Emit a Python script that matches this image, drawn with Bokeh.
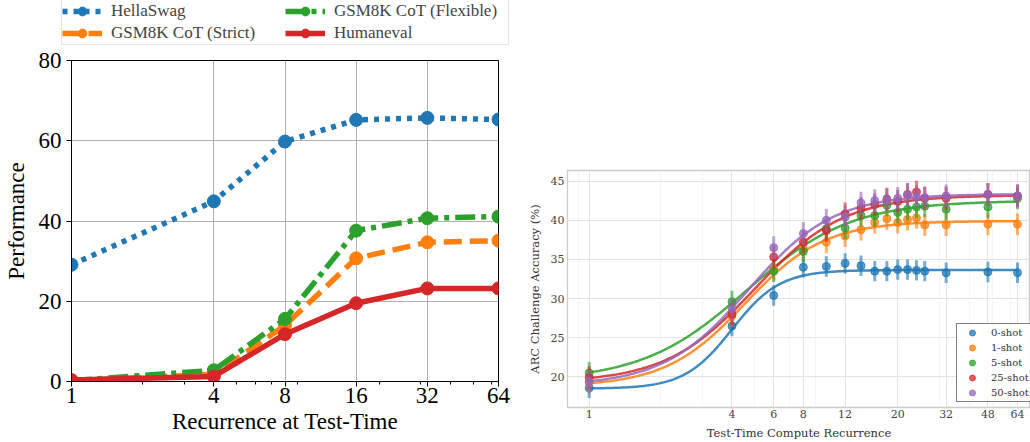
import numpy as np
from bokeh.plotting import figure
from bokeh.layouts import row, column
from bokeh.models import Range1d, FixedTicker, Legend, LegendItem
from bokeh.embed import file_html
from bokeh.resources import INLINE

# ---------------- Left panel data ----------------
recurrence = [1, 4, 8, 16, 32, 64]
recurrence_labels = ["1", "4", "8", "16", "32", "64"]
hellaswag = [29.1, 44.9, 59.8, 65.2, 65.7, 65.3]
gsm8k_strict = [0.2, 1.8, 14.0, 30.7, 34.7, 35.1]
gsm8k_flexible = [0.2, 2.8, 15.6, 37.6, 40.7, 41.1]
humaneval = [0.35, 1.25, 11.8, 19.5, 23.2, 23.2]
perf_ticks = [0, 20, 40, 60, 80]

# ---------------- Right panel data ----------------
arc_x = [1, 4, 6, 8, 10, 12, 14, 16, 18, 20, 22, 24, 26, 32, 48, 64]
arc_ticks = [1, 4, 6, 8, 12, 20, 32, 48, 64]
arc_tick_labels = ["1", "4", "6", "8", "12", "20", "32", "48", "64"]
shots = ["0-shot", "1-shot", "5-shot", "25-shot", "50-shot"]
acc_0shot = [18.6, 26.5, 30.4, 34.0, 34.1, 34.5, 34.2, 33.5, 33.5, 33.7, 33.7, 33.6, 33.5, 33.3, 33.4, 33.3]
acc_1shot = [19.3, 27.8, 33.7, 36.4, 37.2, 38.0, 38.8, 39.7, 40.2, 39.7, 40.1, 40.3, 39.4, 39.4, 39.5, 39.5]
acc_5shot = [20.5, 29.6, 33.5, 36.0, 38.9, 39.0, 40.6, 40.6, 41.9, 41.0, 41.4, 41.7, 41.8, 41.4, 41.7, 42.8]
acc_25shot = [19.9, 28.0, 35.3, 37.2, 38.7, 40.8, 41.5, 42.0, 42.7, 42.4, 43.3, 43.6, 42.8, 42.8, 43.3, 43.1]
acc_50shot = [19.4, 28.7, 36.5, 38.3, 40.0, 40.4, 42.2, 42.5, 42.6, 42.8, 43.2, 43.0, 42.9, 43.1, 43.3, 43.1]
acc_err = [1.3, 1.4, 1.4, 1.45, 1.45]
# sigmoid fit parameters (in log2 of recurrence)
fit_lower = [18.5, 18.8, 19.5, 19.3, 18.9]
fit_upper = [33.65, 39.9, 42.5, 43.2, 43.35]
fit_rate = [3.0, 1.8, 1.37, 1.6, 1.68]
fit_mid = [2.0, 2.18, 2.2, 2.32, 2.23]

TAB = ["#1f77b4", "#ff7f0e", "#2ca02c", "#d62728", "#9467bd"]

# ================= Left figure =================
LF = "Liberation Serif"
p1 = figure(width=515, height=396, x_axis_type="log",
            x_range=Range1d(1, 64), y_range=Range1d(0, 80),
            output_backend="svg", toolbar_location=None,
            min_border_left=69, min_border_right=17, min_border_bottom=61, min_border_top=14)
p1.frame_align = False
p1.outline_line_color = "black"
p1.outline_line_width = 1

# separate strip that holds the legend above the left chart
# (its ranges sit below zero, so its swatch renderers stay out of view)
pl = figure(width=515, height=46, x_range=Range1d(-2, -1), y_range=Range1d(-2, -1),
            output_backend="svg", toolbar_location=None,
            min_border_left=0, min_border_right=0, min_border_top=0, min_border_bottom=0)
pl.frame_align = False
pl.axis.visible = False
pl.grid.visible = False
pl.outline_line_color = None

series = [
    ("HellaSwag", hellaswag, TAB[0], "5 6"),
    ("GSM8K CoT (Strict)", gsm8k_strict, TAB[1], "18 8"),
    ("GSM8K CoT (Flexible)", gsm8k_flexible, TAB[2], "20 6 5 6"),
    ("Humaneval", humaneval, TAB[3], "solid"),
]
items = []
for name, vals, col, dash in series:
    p1.line(recurrence, vals, line_width=5.5, line_color=col, line_dash=dash)
    p1.scatter(recurrence, vals, size=13, fill_color=col, line_color=col)
    lr = pl.line(recurrence[:2], vals[:2], line_width=5.5, line_color=col, line_dash=dash)
    sr = pl.scatter(recurrence[:1], vals[:1], size=13, fill_color=col, line_color=col)
    items.append(LegendItem(label=name, renderers=[lr, sr]))

p1.xaxis.ticker = FixedTicker(ticks=recurrence, minor_ticks=[2, 3, 5, 6, 7, 9, 20, 30, 40, 50, 60])
p1.xaxis.major_label_overrides = {t: l for t, l in zip(recurrence, recurrence_labels)}
p1.yaxis.ticker = FixedTicker(ticks=perf_ticks)
p1.xgrid.ticker = FixedTicker(ticks=recurrence)
for ax in (p1.xaxis[0], p1.yaxis[0]):
    ax.major_label_text_font = LF
    ax.major_label_text_font_size = "23px"
    ax.major_label_text_color = "black"
    ax.axis_label_text_font = LF
    ax.axis_label_text_font_size = "23px"
    ax.axis_label_text_font_style = "normal"
    ax.axis_label_text_color = "black"
    ax.axis_line_color = "black"
    ax.major_tick_line_color = "black"
    ax.major_tick_out = 5
    ax.major_tick_in = 0
    ax.minor_tick_out = 3
    ax.minor_tick_in = 0
p1.yaxis.minor_tick_line_color = None
p1.xaxis.axis_label = "Recurrence at Test-Time"
p1.yaxis.axis_label = "Performance"
p1.xaxis.major_label_standoff = 1
p1.xaxis.axis_label_standoff = 3
p1.yaxis.major_label_standoff = 5
p1.yaxis.axis_label_standoff = 7
p1.grid.grid_line_color = "#b0b0b0"
p1.grid.grid_line_width = 1

leg1 = Legend(items=items, orientation="vertical", ncols=2, location=(61, 1),
              label_text_font=LF, label_text_font_size="17px",
              glyph_width=40, glyph_height=22, label_height=22, label_width=174,
              label_standoff=9, spacing=0, padding=0, margin=0,
              border_line_color="#cccccc", border_line_width=1,
              background_fill_alpha=0.8)
pl.add_layout(leg1)

# ================= Right figure =================
RF = "DejaVu Serif"
p2 = figure(width=515, height=442, x_axis_type="log",
            x_range=Range1d(0.81, 72.6), y_range=Range1d(16.1, 46.35),
            output_backend="svg", toolbar_location=None,
            min_border_left=52, min_border_right=0, min_border_top=170, min_border_bottom=34)
p2.frame_align = False
p2.outline_line_color = "#cccccc"
p2.outline_line_width = 1.3

p2.xaxis.ticker = FixedTicker(ticks=arc_ticks)
p2.xaxis.major_label_overrides = {t: l for t, l in zip(arc_ticks, arc_tick_labels)}
p2.yaxis.ticker = FixedTicker(ticks=[20, 25, 30, 35, 40, 45])
p2.xgrid.ticker = FixedTicker(ticks=arc_ticks, minor_ticks=[0.9, 2, 3, 5, 7, 9, 30, 40, 50, 60, 70])
p2.grid.grid_line_color = "#e3e3e3"
p2.grid.grid_line_width = 1
p2.xgrid.minor_grid_line_color = "#ececec"
p2.xgrid.minor_grid_line_dash = "2 2"
for ax in (p2.xaxis[0], p2.yaxis[0]):
    ax.major_label_text_font = RF
    ax.major_label_text_font_size = "11px"
    ax.major_label_text_color = "#444444"
    ax.axis_label_text_font = RF
    ax.axis_label_text_font_size = "11.5px"
    ax.axis_label_text_font_style = "normal"
    ax.axis_label_text_color = "#333333"
    ax.axis_line_color = None
    ax.major_tick_line_color = None
    ax.minor_tick_line_color = None
    ax.major_tick_out = 0
    ax.major_tick_in = 0
    ax.minor_tick_out = 0
    ax.minor_tick_in = 0
p2.xaxis.axis_label = "Test-Time Compute Recurrence"
p2.yaxis.axis_label = "ARC Challenge Accuracy (%)"
p2.xaxis.major_label_standoff = 2
p2.xaxis.axis_label_standoff = 5
p2.yaxis.major_label_standoff = 3
p2.yaxis.axis_label_standoff = 6

all_acc = [acc_0shot, acc_1shot, acc_5shot, acc_25shot, acc_50shot]
t = np.linspace(0, np.log2(64), 240)
xs_fit = 2 ** t
for i in range(5):
    yfit = fit_lower[i] + (fit_upper[i] - fit_lower[i]) / (1 + np.exp(-fit_rate[i] * (t - fit_mid[i])))
    p2.line(xs_fit, yfit, line_color=TAB[i], line_width=2.5, line_alpha=0.85)

items2 = []
for i in range(5):
    y = np.array(all_acc[i])
    e = acc_err[i]
    p2.segment(x0=arc_x, y0=y - e, x1=arc_x, y1=y + e, line_color=TAB[i], line_width=3, line_alpha=0.6)
    sr = p2.scatter(arc_x, y, size=8, fill_color=TAB[i], line_color=TAB[i], fill_alpha=0.75, line_alpha=0.75)
    dummy = p2.scatter([], [], marker="dash", angle=np.pi / 2, size=11, line_color=TAB[i], line_width=3, line_alpha=0.6)
    items2.append(LegendItem(label=shots[i], renderers=[dummy, sr]))

leg2 = Legend(items=items2, location=(389, 5), orientation="vertical",
              label_text_font=RF, label_text_font_size="10px", label_text_color="#333333",
              glyph_width=28, glyph_height=15, label_height=15, label_standoff=5,
              spacing=0, padding=1, margin=0,
              border_line_color="black", border_line_width=1.2,
              background_fill_color="white", background_fill_alpha=0.9)
p2.add_layout(leg2)

layout = row(column(pl, p1), p2)
open("out.html", "w").write(file_html(layout, INLINE))
